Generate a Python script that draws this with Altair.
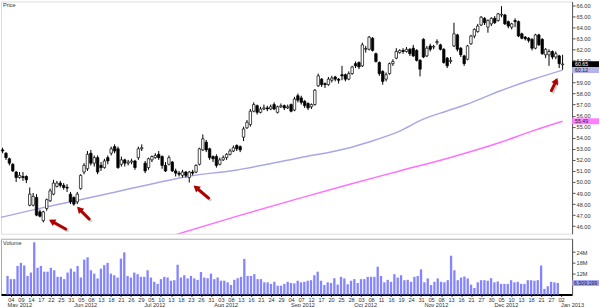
import math
import altair as alt
import pandas as pd

# ---------------- data ----------------
HOLIDAYS = ["2012-05-28", "2012-07-04", "2012-09-03", "2012-10-29", "2012-10-30",
            "2012-11-22", "2012-12-25", "2013-01-01"]
ALL_DAYS = [d for d in pd.bdate_range("2012-05-03", "2013-01-02")
            if d.strftime("%Y-%m-%d") not in HOLIDAYS]

OPEN = [
    52.9, 52.6, 52.1, 51.6, 50.9, 50.4, 50.5, 50.5, 47.9, 47.9,
    48.6, 47.3, 46.5, 47.6, 48.3, 48.9, 49.6, 49.9, 49.7, 49.5,
    48.9, 48.6, 48.2, 49.4, 50.9, 51.2, 52.6, 51.7, 52.2, 51.5,
    51.3, 52.2, 52.6, 53.2, 53.0, 51.6, 52.0, 51.7, 51.8, 51.9,
    52.2, 53.0, 51.7, 51.3, 52.0, 52.2, 52.5, 52.3, 51.5, 51.6,
    51.8, 51.0, 50.8, 50.6, 50.9, 50.4, 50.9, 50.9, 51.6, 52.9,
    53.6, 53.0, 52.3, 52.3, 51.6, 52.0, 52.2, 52.5, 52.8, 53.3,
    53.2, 54.05, 54.9, 55.2, 56.4, 56.9, 56.3, 56.6, 56.7, 56.6,
    57.0, 56.3, 56.8, 56.9, 56.7, 57.0, 56.5, 57.8, 57.6, 57.3,
    57.1, 56.8, 57.0, 58.7, 59.3, 58.9, 58.8, 59.2, 59.5, 59.3,
    59.7, 59.7, 59.3, 59.8, 60.7, 60.8, 60.5, 62.0, 62.0, 63.0,
    61.6, 60.8, 60.0, 59.3, 59.8, 60.7, 61.2, 61.7, 61.9, 61.8,
    62.0, 62.1, 61.9, 61.0, 62.9, 61.4, 62.3, 62.2, 62.6, 62.4,
    62.0, 61.2, 60.9, 62.3, 63.3, 62.1, 61.4, 61.1, 62.5, 63.2,
    63.6, 64.2, 64.8, 64.0, 64.3, 64.8, 64.6, 65.1, 65.1, 64.5,
    64.0, 64.6, 64.5, 63.4, 63.1, 63.0, 62.9, 62.1, 63.3, 62.9,
    61.5, 61.5, 61.8, 61.3, 61.4, 60.6]
HIGH = [
    53.1, 52.7, 52.2, 51.7, 51.0, 50.9, 50.9, 50.6, 49.5, 49.0,
    48.9, 47.5, 47.4, 48.5, 49.4, 50.2, 50.1, 50.1, 49.9, 49.8,
    49.1, 48.7, 49.1, 50.7, 51.7, 52.8, 52.9, 52.4, 52.4, 51.8,
    52.1, 52.4, 53.2, 53.4, 53.2, 52.3, 52.1, 52.0, 52.1, 52.0,
    53.2, 53.4, 51.9, 52.2, 52.4, 52.6, 52.8, 52.4, 51.8, 52.4,
    51.9, 51.2, 51.0, 51.1, 51.0, 51.0, 51.1, 51.6, 53.1, 54.3,
    53.8, 53.1, 52.4, 52.5, 52.2, 52.4, 52.6, 53.0, 53.3, 53.4,
    53.3, 55.0, 55.6, 56.6, 57.2, 57.0, 56.8, 57.0, 56.9, 57.0,
    57.2, 56.9, 57.1, 57.0, 57.0, 57.1, 57.7, 58.0, 57.8, 57.4,
    57.2, 57.1, 58.4, 59.8, 59.4, 59.0, 59.5, 59.6, 59.6, 59.4,
    60.5, 59.8, 60.0, 60.5, 60.9, 60.9, 62.6, 62.3, 63.2, 63.1,
    61.7, 60.9, 60.1, 59.9, 60.8, 61.1, 62.1, 62.0, 62.1, 62.2,
    62.1, 62.4, 62.0, 61.1, 63.0, 62.3, 62.5, 62.4, 62.9, 62.5,
    62.1, 61.3, 61.3, 64.4, 63.4, 62.2, 61.5, 62.4, 63.3, 63.9,
    64.3, 65.0, 64.9, 64.7, 64.9, 65.0, 65.3, 65.9, 65.2, 64.6,
    64.4, 64.8, 64.6, 63.5, 63.2, 63.1, 63.0, 63.4, 63.4, 63.0,
    62.1, 62.0, 61.9, 61.8, 61.5, 61.5]
LOW = [
    52.6, 52.0, 51.5, 50.9, 50.0, 50.3, 50.1, 49.9, 47.8, 47.8,
    46.9, 46.8, 46.35, 47.4, 48.2, 48.8, 49.5, 49.5, 49.3, 49.1,
    48.0, 47.85, 48.0, 49.3, 50.7, 51.0, 51.5, 51.4, 50.7, 51.0,
    51.2, 51.6, 52.4, 52.6, 51.2, 51.4, 51.4, 51.5, 51.6, 51.1,
    52.0, 52.8, 50.8, 51.1, 51.8, 52.1, 52.0, 51.2, 50.9, 51.5,
    50.9, 50.5, 50.5, 50.4, 50.4, 49.95, 50.6, 50.8, 51.5, 52.8,
    52.7, 52.0, 51.8, 51.3, 51.5, 51.9, 52.0, 52.4, 52.7, 52.8,
    52.7, 53.7, 54.8, 55.0, 56.3, 56.1, 56.2, 56.5, 56.4, 56.5,
    56.5, 56.2, 56.7, 56.5, 56.6, 56.3, 56.4, 57.2, 57.0, 56.7,
    56.5, 56.6, 56.9, 58.6, 58.6, 58.5, 58.7, 59.0, 59.1, 58.9,
    59.2, 59.1, 59.2, 59.7, 60.3, 60.2, 60.4, 61.7, 61.9, 61.8,
    60.8, 59.6, 58.8, 59.1, 59.7, 60.5, 61.1, 61.6, 61.6, 61.7,
    61.4, 61.3, 60.9, 59.55, 61.2, 61.3, 61.8, 62.0, 62.4, 61.9,
    60.7, 60.3, 60.7, 62.2, 61.8, 61.3, 60.5, 61.0, 62.4, 63.0,
    63.5, 64.1, 64.2, 63.5, 64.1, 64.3, 64.5, 64.9, 64.2, 63.9,
    63.8, 64.0, 63.1, 62.9, 62.8, 62.6, 61.9, 62.0, 62.3, 61.5,
    61.2, 60.5, 61.1, 61.1, 60.3, 60.15]
CLOSE = [
    52.8, 52.2, 51.7, 51.0, 50.4, 50.6, 50.4, 50.2, 48.9, 48.7,
    47.0, 46.9, 47.3, 48.4, 49.2, 49.9, 49.9, 49.7, 49.5, 49.45,
    48.2, 48.0, 48.9, 50.6, 51.5, 52.5, 51.7, 52.2, 50.9, 51.3,
    51.9, 51.9, 53.0, 52.8, 51.3, 52.0, 51.7, 51.8, 51.9, 51.3,
    53.0, 53.1, 51.0, 52.1, 52.3, 52.4, 52.2, 51.5, 51.0, 52.2,
    51.0, 50.8, 50.7, 50.9, 50.6, 50.9, 50.8, 51.5, 53.0, 53.9,
    52.9, 52.2, 52.1, 51.5, 52.0, 52.2, 52.5, 52.8, 53.1, 53.0,
    52.9, 54.8, 55.4, 56.4, 57.0, 56.3, 56.6, 56.7, 56.6, 56.8,
    56.6, 56.8, 56.9, 56.7, 56.8, 56.4, 57.5, 57.4, 57.2, 56.9,
    56.7, 57.0, 58.3, 59.6, 58.8, 58.8, 59.3, 59.4, 59.3, 59.2,
    59.6, 59.3, 59.8, 60.4, 60.5, 60.4, 62.4, 62.05, 63.1, 61.9,
    60.9, 59.8, 59.1, 59.7, 60.7, 60.9, 61.8, 61.9, 61.8, 62.0,
    61.6, 61.4, 61.0, 60.2, 61.3, 62.1, 62.0, 62.25, 62.7, 62.0,
    60.8, 60.5, 61.0, 63.4, 62.0, 61.5, 60.7, 62.3, 63.2, 63.8,
    64.1, 64.9, 64.4, 64.6, 64.8, 64.4, 65.2, 65.15, 64.3, 64.1,
    64.3, 64.5, 63.2, 63.0, 62.95, 62.8, 62.1, 63.3, 62.4, 61.6,
    62.0, 61.8, 61.3, 61.6, 60.7, 60.65]
VOLUME_M = [
    10.5, 8.7, 8.7, 16.1, 17.9, 16.4, 10.5, 12.4, 29.5, 15.1,
    16.1, 12.9, 12.9, 15.1, 13.7, 10.0, 10.0, 8.7, 12.4, 14.6,
    12.9, 16.1, 9.6, 19.7, 21.0, 13.7, 11.8, 9.1, 14.6, 16.6,
    17.9, 11.8, 10.9, 9.6, 20.3, 23.8, 10.5, 9.6, 12.4, 11.5,
    10.0, 10.0, 13.7, 9.6, 7.2, 6.0, 8.7, 10.0, 9.6, 7.8,
    8.1, 16.8, 9.6, 10.9, 9.1, 10.5, 9.1, 8.3, 12.7, 9.6,
    9.2, 11.8, 8.7, 9.6, 7.8, 7.8, 6.9, 5.4, 8.3, 9.2,
    10.0, 20.1, 10.5, 10.5, 11.5, 8.7, 8.7, 6.9, 6.9, 6.0,
    7.2, 5.0, 5.0, 6.0, 7.2, 6.5, 6.3, 7.8,
    6.9, 7.2, 7.8, 8.1, 10.9, 12.9, 7.8, 5.4, 6.9, 6.5,
    9.2, 5.6, 10.0, 9.1, 5.8, 7.8, 8.7, 6.5, 8.7, 8.7,
    10.0, 10.0, 10.0, 15.7, 10.5, 6.9, 8.3, 7.2, 11.5, 9.6,
    10.9, 8.1, 8.3, 7.2, 10.0, 10.5, 14.2, 6.9, 9.1, 5.4,
    7.2, 9.1, 7.2, 6.9, 8.1, 21.9, 13.7, 8.1, 9.6, 10.2,
    9.1, 5.6, 3.7, 6.9, 8.1, 8.1, 7.8, 9.2, 6.9, 7.4,
    6.0, 6.0, 6.0, 8.1, 6.9, 7.2, 6.0, 6.0, 8.1, 8.1,
    7.8, 8.1, 16.4, 3.2, 4.7, 7.2, 6.9, 6.509199]

# 50-day (lavender) and 200-day (magenta) averages read at points (trading-day index, price)
MA50_I = [-0.5, 9.3, 19.1, 33.3, 43.6, 55.3, 67.1, 87.6, 102.3, 107.2, 117.0, 123.8,
          130.7, 136.6, 146.3, 156.1, 165.0]
MA50_P = [46.8, 47.5, 48.15, 49.1, 49.8, 50.55, 51.0, 52.2, 53.1, 53.55, 54.6, 55.66,
          56.4, 57.0, 58.2, 59.26, 60.12]
MA200_I = [50.3, 67.9, 87.6, 102.3, 117.0, 131.7, 146.3, 156.0, 165.0]
MA200_P = [45.17, 46.8, 48.54, 49.8, 51.0, 52.2, 53.55, 54.6, 55.49]

# red annotation arrows (tail -> head), in trading-day index / price
ARROW_TAIL_I = [18.6, 25.5, 60.7, 161.7]
ARROW_TAIL_P = [45.75, 46.65, 48.54, 58.27]
ARROW_HEAD_I = [14.5, 22.6, 57.0, 163.1]
ARROW_HEAD_P = [46.45, 47.55, 49.5, 59.15]

TAG_VALUES = [60.65, 60.12, 55.49]
TAG_FILLS = ["black", "#b4b4e8", "#ff80ff"]
TAG_TEXT = ["white", "#222222", "#222222"]
VOL_TAG = [6.509199]
VOL_TAG_LABEL = ["6,509,199"]

# 60.00 sits under the 60.12 tag in the reference, so it is not shown
PRICE_TICKS = [v for v in range(46, 67) if v != 60]
VOL_TICKS = [12, 18, 24]

# ---------------- layout constants ----------------
W, HP, HV = 573, 233, 56
XDOM = [-0.47, 167.8]
YDOM = [45.32, 66.32]
VDOM = [0, 31.5]
FONT = "Liberation Sans"
FS = 5.6
TFS = 5.2

n = len(CLOSE)
df = pd.DataFrame({"i": list(range(n)), "o": OPEN, "h": HIGH, "l": LOW, "c": CLOSE,
                   "v": VOLUME_M})

day_labels = [d.strftime("%d") for d in ALL_DAYS]
label_expr = "[" + ",".join("'%s'" % s for s in day_labels) + "][datum.value]"
tick_vals = list(range(1, len(ALL_DAYS), 3))

month_rows = []
seen = set()
for k, d in enumerate(ALL_DAYS):
    key = (d.year, d.month)
    if key not in seen:
        seen.add(key)
        month_rows.append({"i": k, "m": d.strftime("%b %Y")})
months = pd.DataFrame(month_rows)

xs = alt.Scale(domain=XDOM, nice=False, zero=False)
ys = alt.Scale(domain=YDOM, nice=False, zero=False)
vs = alt.Scale(domain=VDOM, nice=False, zero=False)

yaxis = alt.Axis(orient="right", values=PRICE_TICKS, format=".2f", title=None,
                 grid=False, domainColor="#555555", tickColor="#555555", tickSize=3,
                 labelFontSize=FS, labelColor="#333333", labelPadding=1, labelFont=FONT)

base = alt.Chart(df).transform_calculate(
    lo="min(datum.l, datum.o, datum.c)",
    hi="max(datum.h, datum.o, datum.c)",
    bl="min(datum.o, datum.c)",
    bh="max(datum.o, datum.c, min(datum.o, datum.c) + 0.07)",
    x1="datum.i - 0.36",
    x2="datum.i + 0.36",
    fillc="datum.c >= datum.o ? 'white' : 'black'",
)

px_i = W / (XDOM[1] - XDOM[0])
px_p = HP / (YDOM[1] - YDOM[0])
arrows = pd.DataFrame({"ti": ARROW_TAIL_I, "tp": ARROW_TAIL_P,
                       "hi": ARROW_HEAD_I, "hp": ARROW_HEAD_P})
arrows["ang"] = [
    math.degrees(math.atan2((h - t) * px_i, (hp - tp) * px_p)) % 360
    for t, tp, h, hp in zip(ARROW_TAIL_I, ARROW_TAIL_P, ARROW_HEAD_I, ARROW_HEAD_P)
]

ma50 = alt.Chart(pd.DataFrame({"i": MA50_I, "p": MA50_P})).mark_line(
    color="#a8a8e4", strokeWidth=1.5, clip=True, interpolate="monotone"
).encode(x=alt.X("i:Q", scale=xs, axis=None), y=alt.Y("p:Q", scale=ys, axis=yaxis))

ma200 = alt.Chart(pd.DataFrame({"i": MA200_I, "p": MA200_P})).mark_line(
    color="#ff70ff", strokeWidth=1.5, clip=True, interpolate="monotone"
).encode(x=alt.X("i:Q", scale=xs, axis=None), y=alt.Y("p:Q", scale=ys, axis=yaxis))

wicks = base.mark_rule(color="black", strokeWidth=1).encode(
    x=alt.X("i:Q", scale=xs, axis=None),
    y=alt.Y("lo:Q", scale=ys, axis=yaxis), y2="hi:Q")

bodies = base.mark_rect(stroke="black", strokeWidth=0.7).encode(
    x=alt.X("x1:Q", scale=xs, axis=None), x2="x2:Q",
    y=alt.Y("bl:Q", scale=ys, axis=yaxis), y2="bh:Q",
    fill=alt.Fill("fillc:N", scale=None))

arrow_shadow = alt.Chart(arrows).transform_calculate(
    sti="datum.ti + 0.5", stp="datum.tp - 0.15", shi="datum.hi + 0.5", shp="datum.hp - 0.15"
).mark_rule(color="#999999", strokeWidth=3, strokeCap="round", opacity=0.45).encode(
    x=alt.X("sti:Q", scale=xs, axis=None), x2="shi:Q",
    y=alt.Y("stp:Q", scale=ys, axis=yaxis), y2="shp:Q")

arrow_shafts = alt.Chart(arrows).mark_rule(
    color="#b00000", strokeWidth=3, strokeCap="round"
).encode(x=alt.X("ti:Q", scale=xs, axis=None), x2="hi:Q",
         y=alt.Y("tp:Q", scale=ys, axis=yaxis), y2="hp:Q")

arrow_heads = alt.Chart(arrows).mark_point(
    shape="triangle-up", filled=True, color="#b00000", size=55, opacity=1
).encode(x=alt.X("hi:Q", scale=xs, axis=None),
         y=alt.Y("hp:Q", scale=ys, axis=yaxis),
         angle=alt.Angle("ang:Q", scale=None))

tags = pd.DataFrame({"p": TAG_VALUES, "fillc": TAG_FILLS, "tc": TAG_TEXT})
tags["label"] = ["%.2f" % v for v in TAG_VALUES]
tag_base = alt.Chart(tags).transform_calculate(ptop="datum.p + 0.27", pbot="datum.p - 0.27")
tag_boxes = tag_base.mark_rect().encode(
    x=alt.value(W), x2=alt.value(600),
    y=alt.Y("ptop:Q", scale=ys, axis=yaxis), y2="pbot:Q",
    fill=alt.Fill("fillc:N", scale=None))
tag_text = tag_base.mark_text(align="left", baseline="middle", fontSize=TFS, font=FONT).encode(
    x=alt.value(W + 3), y=alt.Y("p:Q", scale=ys, axis=yaxis), text="label:N",
    color=alt.Color("tc:N", scale=None))

price_title = alt.Chart(pd.DataFrame({"t": ["Price"]})).mark_text(
    align="left", baseline="top", fontSize=FS, font=FONT, color="#333333"
).encode(x=alt.value(2), y=alt.value(2), text="t:N")

price = alt.layer(ma50, ma200, wicks, bodies, arrow_shadow, arrow_shafts, arrow_heads,
                  tag_boxes, tag_text, price_title).properties(width=W, height=HP)

# ---------------- volume panel ----------------
xaxis = alt.Axis(values=tick_vals, labelExpr=label_expr, title=None, grid=False,
                 domainColor="black", domainWidth=2, tickColor="#333333", tickSize=2,
                 labelFontSize=FS, labelColor="#333333", labelPadding=1, labelFont=FONT,
                 labelFlush=False, labelOverlap=False)
vaxis = alt.Axis(orient="right", values=VOL_TICKS, labelExpr="datum.value + 'M'",
                 title=None, grid=False, domainColor="#555555", tickColor="#555555",
                 tickSize=3, labelFontSize=FS, labelColor="#333333", labelPadding=1,
                 labelFont=FONT)

vbars = alt.Chart(df).mark_bar(size=2.3, color="#8484ff").encode(
    x=alt.X("i:Q", scale=xs, axis=xaxis),
    y=alt.Y("v:Q", scale=vs, axis=vaxis))

vtag = pd.DataFrame({"v": VOL_TAG, "label": VOL_TAG_LABEL})
vtag_base = alt.Chart(vtag).transform_calculate(vtop="datum.v + 1.6", vbot="datum.v - 1.6")
vtag_box = vtag_base.mark_rect(color="#9c9cf2").encode(
    x=alt.value(W), x2=alt.value(600),
    y=alt.Y("vtop:Q", scale=vs, axis=vaxis), y2="vbot:Q")
vtag_text = vtag_base.mark_text(align="left", baseline="middle", fontSize=TFS, font=FONT,
                                color="#222222").encode(
    x=alt.value(W + 2), y=alt.Y("v:Q", scale=vs, axis=vaxis), text="label:N")

month_text = alt.Chart(months).mark_text(
    align="left", baseline="top", fontSize=FS, font=FONT, color="#333333"
).encode(x=alt.X("i:Q", scale=xs, axis=xaxis), y=alt.value(HV + 8.5), text="m:N")

vol_title = alt.Chart(pd.DataFrame({"t": ["Volume"]})).mark_text(
    align="left", baseline="top", fontSize=FS, font=FONT, color="#333333"
).encode(x=alt.value(2), y=alt.value(2), text="t:N")

volume = alt.layer(vbars, vtag_box, vtag_text, month_text, vol_title).properties(
    width=W, height=HV, view=alt.ViewBackground(stroke="#aaaaaa", strokeWidth=1))

chart = alt.vconcat(price, volume, spacing=3).properties(
    padding={"left": 0, "top": 0, "right": 0, "bottom": 0}
).configure_view(stroke=None).configure(background="white")

chart.save("out.html", embed_options={"renderer": "svg", "actions": False})
